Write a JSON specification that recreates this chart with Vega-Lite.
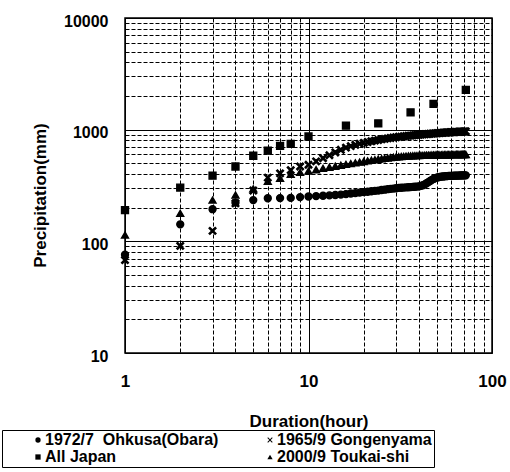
{
  "$schema": "https://vega.github.io/schema/vega-lite/v6.json",
  "autosize": "none",
  "width": 367,
  "height": 335,
  "padding": {"left": 125, "top": 18, "right": 18, "bottom": 119},
  "background": "white",
  "data": {
    "values": [
      {"h": 1, "o": 76, "g": 68, "t": 114, "j": 190},
      {"h": 2, "o": 142, "g": 91, "t": 178, "j": 303},
      {"h": 3, "o": 194, "g": 124, "t": 234, "j": 387},
      {"h": 4, "o": 222, "g": 219, "t": 260, "j": 468},
      {"h": 5, "o": 234, "g": 285, "t": 295, "j": 584},
      {"h": 6, "o": 243, "g": 372, "t": 345, "j": 650},
      {"h": 7, "o": 244, "g": 406, "t": 367, "j": 715},
      {"h": 8, "o": 245, "g": 434, "t": 398, "j": 745},
      {"h": 9, "o": 249, "g": 468, "t": 415},
      {"h": 10, "o": 252, "g": 485, "t": 425, "j": 868},
      {"h": 11, "o": 254, "g": 520, "t": 438},
      {"h": 12, "o": 256, "g": 555, "t": 450},
      {"h": 13, "o": 258, "g": 590, "t": 461},
      {"h": 14, "o": 260, "g": 625, "t": 471},
      {"h": 15, "o": 262, "g": 660, "t": 480},
      {"h": 16, "o": 265, "g": 690, "t": 489, "j": 1085},
      {"h": 17, "o": 268, "g": 712, "t": 497},
      {"h": 18, "o": 270, "g": 732, "t": 505},
      {"h": 19, "o": 273, "g": 748, "t": 512},
      {"h": 20, "o": 276, "g": 762, "t": 519},
      {"h": 21, "o": 278, "g": 775, "t": 526},
      {"h": 22, "o": 281, "g": 787, "t": 532},
      {"h": 23, "o": 283, "g": 798, "t": 538},
      {"h": 24, "o": 285, "g": 808, "t": 544, "j": 1140},
      {"h": 25, "o": 288, "g": 818, "t": 549},
      {"h": 26, "o": 290, "g": 827, "t": 554},
      {"h": 27, "o": 293, "g": 835, "t": 558},
      {"h": 28, "o": 295, "g": 843, "t": 562},
      {"h": 29, "o": 297, "g": 850, "t": 566},
      {"h": 30, "o": 299, "g": 856, "t": 569},
      {"h": 31, "o": 301, "g": 862, "t": 572},
      {"h": 32, "o": 302, "g": 867, "t": 575},
      {"h": 33, "o": 303, "g": 872, "t": 577},
      {"h": 34, "o": 304, "g": 877, "t": 579},
      {"h": 35, "o": 305, "g": 881, "t": 581},
      {"h": 36, "o": 306, "g": 885, "t": 583, "j": 1430},
      {"h": 37, "o": 307, "g": 889, "t": 584},
      {"h": 38, "o": 308, "g": 893, "t": 585},
      {"h": 39, "o": 309, "g": 897, "t": 586},
      {"h": 40, "o": 311, "g": 900, "t": 587},
      {"h": 41, "o": 314, "g": 904, "t": 588},
      {"h": 42, "o": 318, "g": 907, "t": 589},
      {"h": 43, "o": 324, "g": 910, "t": 590},
      {"h": 44, "o": 331, "g": 913, "t": 591},
      {"h": 45, "o": 339, "g": 916, "t": 592},
      {"h": 46, "o": 347, "g": 919, "t": 592},
      {"h": 47, "o": 355, "g": 922, "t": 593},
      {"h": 48, "o": 362, "g": 925, "t": 593, "j": 1700},
      {"h": 49, "o": 368, "g": 927, "t": 594},
      {"h": 50, "o": 372, "g": 930, "t": 594},
      {"h": 51, "o": 375, "g": 932, "t": 595},
      {"h": 52, "o": 378, "g": 934, "t": 595},
      {"h": 53, "o": 380, "g": 936, "t": 595},
      {"h": 54, "o": 381, "g": 938, "t": 596},
      {"h": 55, "o": 382, "g": 940, "t": 596},
      {"h": 56, "o": 383, "g": 942, "t": 596},
      {"h": 57, "o": 384, "g": 944, "t": 597},
      {"h": 58, "o": 385, "g": 946, "t": 597},
      {"h": 59, "o": 385, "g": 947, "t": 597},
      {"h": 60, "o": 386, "g": 949, "t": 598},
      {"h": 61, "o": 386, "g": 950, "t": 598},
      {"h": 62, "o": 387, "g": 952, "t": 598},
      {"h": 63, "o": 387, "g": 953, "t": 598},
      {"h": 64, "o": 388, "g": 955, "t": 599},
      {"h": 65, "o": 388, "g": 956, "t": 599},
      {"h": 66, "o": 388, "g": 957, "t": 599},
      {"h": 67, "o": 389, "g": 959, "t": 599},
      {"h": 68, "o": 389, "g": 960, "t": 600},
      {"h": 69, "o": 389, "g": 961, "t": 600},
      {"h": 70, "o": 390, "g": 962, "t": 600},
      {"h": 71, "o": 390, "g": 963, "t": 600},
      {"h": 72, "o": 390, "g": 965, "t": 600, "j": 2270}
    ]
  },
  "transform": [
    {"fold": ["o", "g", "j", "t"], "as": ["s", "p"]},
    {"filter": "isValid(datum.p)"}
  ],
  "mark": {"type": "point", "filled": false, "fill": "black", "stroke": "black", "strokeWidth": 1.4, "opacity": 1, "size": 48},
  "encoding": {
    "x": {
      "field": "h", "type": "quantitative",
      "scale": {"type": "log", "domain": [1, 100], "nice": false},
      "axis": {
        "values": [1, 2, 3, 4, 5, 6, 7, 8, 9, 10, 20, 30, 40, 50, 60, 70, 80, 90, 100],
        "format": "d",
        "labelExpr": "indexof([1,10,100], datum.value) >= 0 ? datum.label : ''",
        "labelFlush": false,
        "labelOverlap": false,
        "labelBaseline": "middle",
        "labelPadding": 28,
        "labelFontSize": 17,
        "title": "Duration(hour)",
        "titleFontSize": 17,
        "titleBaseline": "middle",
        "titleY": 68,
        "gridDash": {"condition": {"test": "indexof([1,10,100], datum.value) >= 0", "value": []}, "value": [4, 2]}
      }
    },
    "y": {
      "field": "p", "type": "quantitative",
      "scale": {"type": "log", "domain": [10, 10000], "nice": false},
      "axis": {
        "values": [10, 20, 30, 40, 50, 60, 70, 80, 90, 100, 200, 300, 400, 500, 600, 700, 800, 900, 1000, 2000, 3000, 4000, 5000, 6000, 7000, 8000, 9000, 10000],
        "format": "d",
        "labelExpr": "indexof([10,100,1000,10000], datum.value) >= 0 ? datum.label : ''",
        "labelOverlap": false,
        "labelPadding": 17,
        "labelOffset": 3,
        "labelFontSize": 16,
        "title": "Precipitation(mm)",
        "titleFontSize": 17,
        "titleBaseline": "middle",
        "titleX": -85,
        "titleY": 177,
        "gridDash": {"condition": {"test": "indexof([10,100,1000,10000], datum.value) >= 0", "value": []}, "value": [4, 2]}
      }
    },
    "shape": {
      "field": "s", "type": "nominal",
      "scale": {"domain": ["o", "g", "j", "t"], "range": ["circle", "M-1,-0.75L-0.75,-1L0,-0.25L0.75,-1L1,-0.75L0.25,0L1,0.75L0.75,1L0,0.25L-0.75,1L-1,0.75L-0.25,0Z", "square", "triangle-up"]},
      "legend": {
        "orient": "none",
        "legendX": -123,
        "legendY": 412,
        "direction": "horizontal",
        "columns": 2,
        "title": null,
        "strokeColor": "black",
        "padding": 2,
        "symbolOffset": 26,
        "labelOffset": -1,
        "columnPadding": 17,
        "rowPadding": 1,
        "labelFontSize": 16,
        "labelFontWeight": "bold",
        "labelColor": "black",
        "labelLimit": 400,
        "symbolSize": 28,
        "symbolFillColor": "black",
        "symbolStrokeColor": "black",
        "symbolStrokeWidth": 1,
        "labelExpr": "datum.value == 'o' ? '1972/7\u00a0\u00a0Ohkusa(Obara)' : datum.value == 'g' ? '1965/9 Gongenyama' : datum.value == 'j' ? 'All Japan' : '2000/9 Toukai-shi'"
      }
    }
  },
  "config": {
    "font": "Liberation Sans",
    "view": {"stroke": "black", "strokeWidth": 1.5},
    "axis": {
      "gridColor": "black",
      "gridOpacity": 1,
      "gridWidth": 1,
      "domain": false,
      "ticks": false,
      "tickSize": 0,
      "labelColor": "black",
      "titleColor": "black",
      "labelFontWeight": "bold",
      "titleFontWeight": "bold"
    }
  }
}
